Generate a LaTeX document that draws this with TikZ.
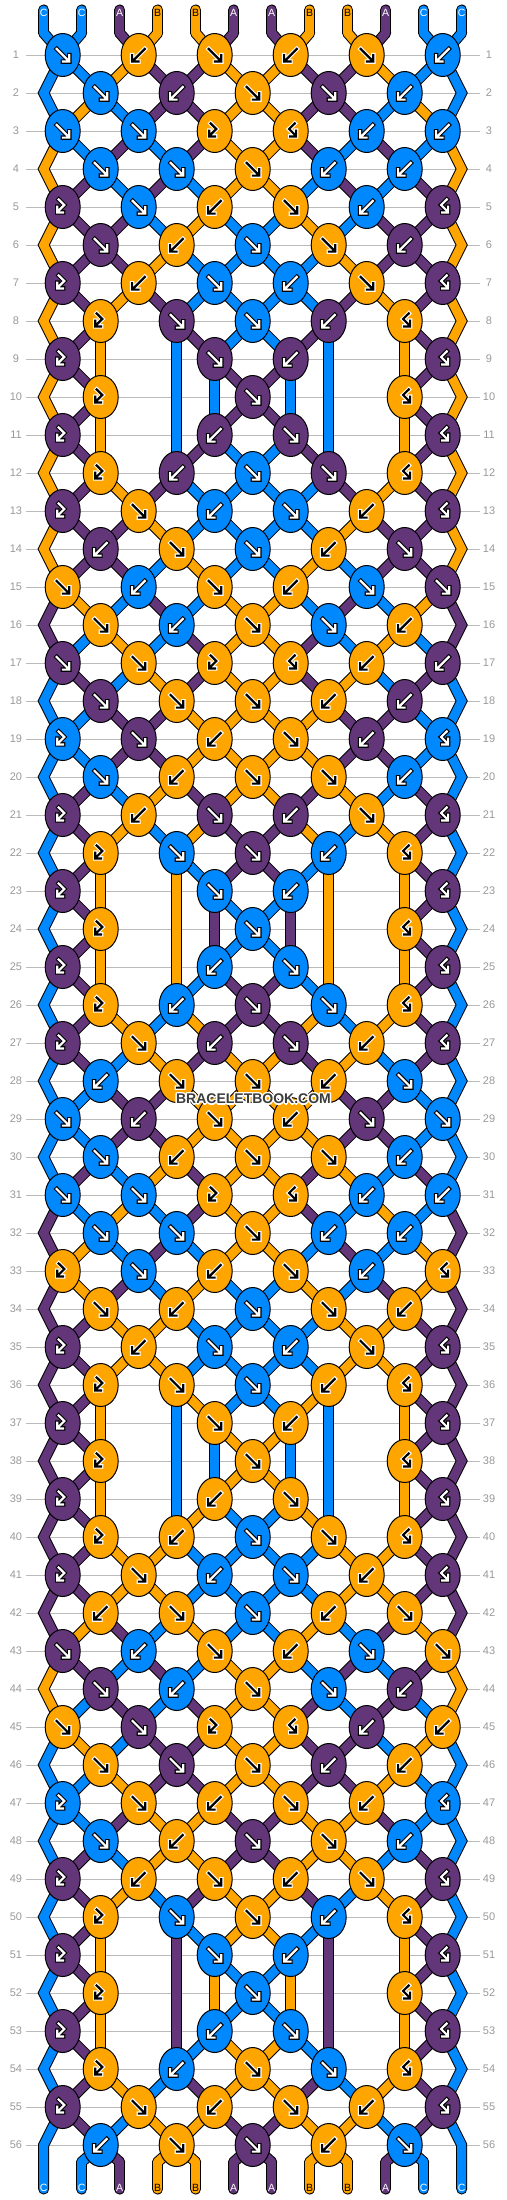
\documentclass[tikz,border=0pt]{standalone}
\usepackage{fontspec}
\setmainfont{Liberation Sans}
\definecolor{cA}{HTML}{633579}
\definecolor{cB}{HTML}{FFA500}
\definecolor{cC}{HTML}{0088FF}
\definecolor{rowgray}{HTML}{999999}
\definecolor{linegray}{HTML}{BBBBBB}
\definecolor{wmgray}{HTML}{3C3C3C}
\def\setcol#1#2{\expandafter\xdef\csname bbc#1\endcsname{#2}}
\def\getcol#1{\csname bbc#1\endcsname}
\def\setx#1#2{\expandafter\xdef\csname bbx#1\endcsname{#2}}
\def\getx#1{\csname bbx#1\endcsname}
\def\tN{N}\def\tF{F}\def\tB{B}\def\tR{R}\def\tL{L}
\newif\ifskipa \newif\ifskipb
\def\mode{1}
% glyph paths (y axis points down)
\def\pathF{(-6,-6)--(5.4,5.4) (6.6,0.2)--(6.6,6.6)--(0.2,6.6)}
\def\pathB{(6,-6)--(-5.4,5.4) (-6.6,0.2)--(-6.6,6.6)--(-0.2,6.6)}
\def\pathL{(-4,-7.5)--(1.6,-2)--(-4.2,3.8) (-5.4,-0.4)--(-5.4,5.4)--(0.4,5.4)}
\def\pathR{(4,-7.5)--(-1.6,-2)--(4.2,3.8) (5.4,-0.4)--(5.4,5.4)--(-0.4,5.4)}
\newcommand\sseg[5]{%
  \ifcase\mode\or
    \draw[strbk] (#1,#2)--(#3,#4);%
  \or
    \draw[strcol,draw=#5] (#1,#2)--(#3,#4);%
  \fi}
\newcommand\sedge[7]{%
  \ifcase\mode\or
    \draw[strbk] (#1,#2)--(#3,#4)--(#5,#6);%
  \or
    \draw[strcol,draw=#7] (#1,#2)--(#3,#4)--(#5,#6);%
  \fi}
\newcommand\knot[4]{%
  \ifnum\mode=3
  \edef\kfill{c#3}%
  \draw[knotst,fill=\kfill] (#1,#2) ellipse [x radius=17.5,y radius=21.5];
  \if B#3 \def\gfg{black}\def\gbg{white}\else\def\gfg{white}\def\gbg{black}\fi
  \expandafter\let\expandafter\gpath\csname path#4\endcsname
  \begin{scope}[shift={(#1,#2)}]
    \draw[line width=4.4pt,draw=\gbg,line cap=rect,line join=miter] \gpath;
    \draw[line width=2.2pt,draw=\gfg,line cap=rect,line join=miter] \gpath;
  \end{scope}%
  \fi}
\newcommand\doknot{%
  \pgfmathtruncatemacro\pa{2*\k-1+\off}%
  \pgfmathtruncatemacro\pb{\pa+1}%
  \pgfmathsetmacro\kx{43.7+38*(\pa-1)+19}%
  \edef\ca{\getcol{\pa}}\edef\cb{\getcol{\pb}}%
  \edef\xa{\getx{\pa}}\edef\xb{\getx{\pb}}%
  \edef\cca{c\ca}\edef\ccb{c\cb}%
  \ifx\kt\tN
    \sseg{\xa}{\yp}{\xa}{\yy}{\cca}%
    \sseg{\xb}{\yp}{\xb}{\yy}{\ccb}%
  \else
    \skipafalse\skipbfalse
    \ifnum\rownum>1 \ifnum\pa=1 \skipatrue\fi \ifnum\pb=12 \skipbtrue\fi\fi
    \ifskipa\else\sseg{\xa}{\yp}{\kx}{\yy}{\cca}\fi
    \ifskipb\else\sseg{\xb}{\yp}{\kx}{\yy}{\ccb}\fi
    \setx{\pa}{\kx}\setx{\pb}{\kx}%
    \let\kc\cb
    \ifx\kt\tF\let\kc\ca\fi
    \ifx\kt\tR\let\kc\ca\fi
    \knot{\kx}{\yy}{\kc}{\kt}%
    \ifx\kt\tF\setcol{\pa}{\cb}\setcol{\pb}{\ca}\fi
    \ifx\kt\tB\setcol{\pa}{\cb}\setcol{\pb}{\ca}\fi
  \fi}
\newcommand\dorow[2]{%
  \pgfmathsetmacro\yy{55+38*(#1-1)}%
  \ifnum#1=1 \def\yp{33}\else\pgfmathsetmacro\yp{\yy-38}\fi
  \ifodd#1 \def\off{0}\else\def\off{1}\fi
  \def\rownum{#1}%
  \ifodd#1 \else
    \edef\cea{c\getcol{1}}\edef\ceb{c\getcol{12}}%
    \ifnum#1<56
      \sedge{62.7}{\yp}{43.7}{\yy}{62.7}{\yy+38}{\cea}%
      \sedge{442.7}{\yp}{461.7}{\yy}{442.7}{\yy+38}{\ceb}%
    \else
      \sedge{62.7}{\yp}{43.7}{\yy}{43.7}{2189}{\cea}%
      \sedge{442.7}{\yp}{461.7}{\yy}{461.7}{2189}{\ceb}%
    \fi
  \fi
  \foreach \kt [count=\k] in {#2} {\doknot}%
}
\newcommand\allrows{%
\foreach \lab [count=\p] in {C,C,A,B,B,A,A,B,B,A,C,C}{
  \pgfmathsetmacro\sxp{43.7+38*(\p-1)}
  \setcol{\p}{\lab}\setx{\p}{\sxp}
  \edef\cc{c\lab}
  \sseg{\sxp}{10}{\sxp}{33}{\cc}
  \ifnum\mode=3
    \if B\lab \def\lc{black}\else\def\lc{white}\fi
    \node[strlab,text=\lc] (T\p) at (\sxp,12.5) {\lab};
  \fi
}
\dorow{1}{F,B,F,B,F,B}
\dorow{2}{F,B,F,F,B}
\dorow{3}{F,F,L,R,B,B}
\dorow{4}{F,F,F,B,B}
\dorow{5}{L,F,B,F,B,R}
\dorow{6}{F,B,F,F,B}
\dorow{7}{L,B,F,B,F,R}
\dorow{8}{L,F,F,B,R}
\dorow{9}{L,N,F,B,N,R}
\dorow{10}{L,N,F,N,R}
\dorow{11}{L,N,B,F,N,R}
\dorow{12}{L,B,F,F,R}
\dorow{13}{L,F,B,F,B,R}
\dorow{14}{B,F,F,B,F}
\dorow{15}{F,B,F,B,F,F}
\dorow{16}{F,B,F,F,B}
\dorow{17}{F,F,L,R,B,B}
\dorow{18}{F,F,F,B,B}
\dorow{19}{L,F,B,F,B,R}
\dorow{20}{F,B,F,F,B}
\dorow{21}{L,B,F,B,F,R}
\dorow{22}{L,F,F,B,R}
\dorow{23}{L,N,F,B,N,R}
\dorow{24}{L,N,F,N,R}
\dorow{25}{L,N,B,F,N,R}
\dorow{26}{L,B,F,F,R}
\dorow{27}{L,F,B,F,B,R}
\dorow{28}{B,F,F,B,F}
\dorow{29}{F,B,F,B,F,F}
\dorow{30}{F,B,F,F,B}
\dorow{31}{F,F,L,R,B,B}
\dorow{32}{F,F,F,B,B}
\dorow{33}{L,F,B,F,B,R}
\dorow{34}{F,B,F,F,B}
\dorow{35}{L,B,F,B,F,R}
\dorow{36}{L,F,F,B,R}
\dorow{37}{L,N,F,B,N,R}
\dorow{38}{L,N,F,N,R}
\dorow{39}{L,N,B,F,N,R}
\dorow{40}{L,B,F,F,R}
\dorow{41}{L,F,B,F,B,R}
\dorow{42}{B,F,F,B,F}
\dorow{43}{F,B,F,B,F,F}
\dorow{44}{F,B,F,F,B}
\dorow{45}{F,F,L,R,B,B}
\dorow{46}{F,F,F,B,B}
\dorow{47}{L,F,B,F,B,R}
\dorow{48}{F,B,F,F,B}
\dorow{49}{L,B,F,B,F,R}
\dorow{50}{L,F,F,B,R}
\dorow{51}{L,N,F,B,N,R}
\dorow{52}{L,N,F,N,R}
\dorow{53}{L,N,B,F,N,R}
\dorow{54}{L,B,F,F,R}
\dorow{55}{L,F,B,F,B,R}
\dorow{56}{B,F,F,B,F}
\foreach \p in {1,...,12}{
  \pgfmathsetmacro\sxp{43.7+38*(\p-1)}
  \edef\xx{\getx{\p}}
  \edef\lab{\getcol{\p}}
  \edef\cc{c\lab}
  \ifnum\p>1 \ifnum\p<12
    \sseg{\xx}{2145}{\sxp}{2162}{\cc}
    \sseg{\sxp}{2162}{\sxp}{2189}{\cc}
  \fi\fi
  \ifnum\mode=3
    \if B\lab \def\lc{black}\else\def\lc{white}\fi
    \node[strlab,text=\lc] (Bt\p) at (\sxp,2188) {\lab};
  \fi
}}
\begin{document}
\begin{tikzpicture}[x=1pt,y=-1pt,
  strbk/.style={line width=11pt,line cap=round,line join=miter,draw=black},
  strcol/.style={line width=9pt,line cap=round,line join=miter},
  knotst/.style={draw=black,line width=1pt},
  rownum/.style={text=rowgray,font=\fontsize{11}{12}\selectfont,inner sep=0pt},
  strlab/.style={font=\fontsize{10.5}{11}\selectfont,inner sep=0pt},
  wm/.style={font=\fontsize{14}{14}\selectfont\bfseries,inner sep=0pt}]
\useasboundingbox (0,0) rectangle (506,2200);
\fill[white] (0,0) rectangle (506,2200);
% grid lines and row numbers
\foreach \r in {1,...,56}{
  \pgfmathsetmacro\gy{55+38*(\r-1)}
  \draw[linegray,line width=0.8pt] (26,\gy)--(480,\gy);
  \node[rownum] (L\r) at (16,\gy) {\r};
  \node[rownum] (R\r) at (489,\gy) {\r};
}
\def\mode{1}\allrows
\def\mode{2}\allrows
\def\mode{3}\allrows
% watermark
\foreach \dx/\dy [count=\i] in {-1/-1,-1/0,-1/1,0/-1,0/1,1/-1,1/0,1/1,-1.5/0,1.5/0,0/-1.5,0/1.5}
  \node[wm,text=white] (h\i) at (253.5+\dx,1099+\dy) {BRACELETBOOK.COM};
\node[wm,text=wmgray] (wm) at (253.5,1099) {BRACELETBOOK.COM};
\end{tikzpicture}
\end{document}
